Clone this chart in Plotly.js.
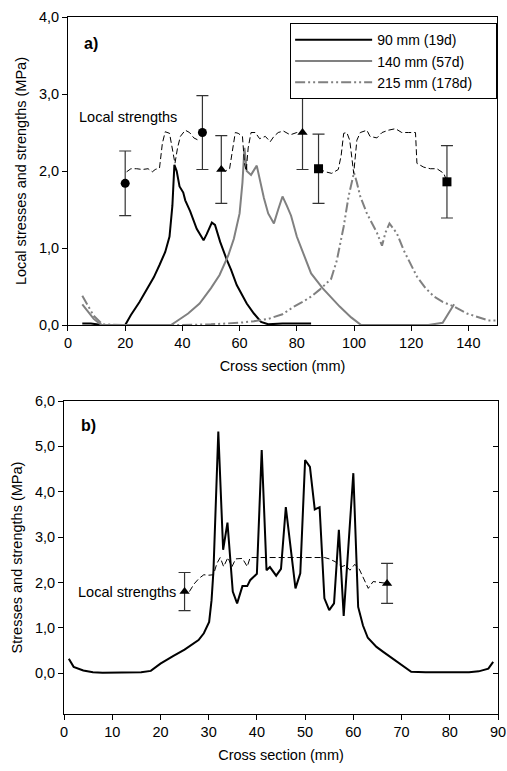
<!DOCTYPE html>
<html>
<head>
<meta charset="utf-8">
<script src="https://cdn.plot.ly/plotly-3.0.1.min.js"></script>
<style>html,body{margin:0;padding:0;background:#fff;}#chart{width:507px;height:771px;}</style>
</head>
<body>
<div id="chart"></div>
<script>
// ---------- Panel a) data ----------
const aX90 = [5, 8, 10, 12, 20, 22, 25, 28, 30, 32, 34, 35.5, 36.5, 37.2, 38, 39, 40.3, 41, 42.7, 45, 47.4, 48.5, 50.3, 51.4, 53.2, 55.5, 57, 59, 62.5, 65, 67.5, 70, 75, 80, 85];
const aY90 = [0.02, 0.02, 0.01, 0, 0, 0.13, 0.3, 0.5, 0.62, 0.78, 0.95, 1.15, 1.55, 2.08, 2.0, 1.8, 1.72, 1.62, 1.48, 1.25, 1.10, 1.18, 1.33, 1.30, 1.08, 0.85, 0.72, 0.52, 0.28, 0.15, 0.04, 0.01, 0.02, 0.02, 0.02];

const aX140 = [5, 7, 9, 11, 12, 20, 30, 36, 38, 42, 46, 50, 53, 56, 58, 60, 61, 61.7, 62.5, 64, 66, 67, 68.5, 70, 72, 73.5, 75, 76.5, 78, 80, 82, 85, 89, 92, 95, 99, 102.5, 110, 120, 126, 131, 133, 135];
const aY140 = [0.27, 0.17, 0.08, 0.02, 0, 0, 0, 0, 0.05, 0.15, 0.28, 0.48, 0.65, 0.9, 1.12, 1.45, 1.85, 2.3, 2.0, 1.95, 2.07, 1.9, 1.65, 1.45, 1.32, 1.5, 1.67, 1.55, 1.42, 1.15, 0.95, 0.67, 0.48, 0.36, 0.24, 0.1, 0, 0, 0, 0, 0.03, 0.15, 0.27];

const aX215 = [5, 7, 9, 12, 20, 30, 40, 50, 60, 65, 70, 75, 79, 82, 85, 88, 90.5, 92, 94, 96.4, 98.1, 100, 101, 102.2, 104.5, 106.9, 108, 109.8, 111, 112.4, 115, 117.4, 120, 122, 125, 128, 131, 135, 139.5, 144, 147, 150];
const aY215 = [0.38, 0.25, 0.12, 0.01, 0, 0, 0, 0.01, 0.03, 0.05, 0.08, 0.14, 0.24, 0.3, 0.37, 0.46, 0.54, 0.6, 0.84, 1.28, 1.67, 1.98, 1.85, 1.67, 1.45, 1.28, 1.2, 1.03, 1.2, 1.32, 1.19, 0.97, 0.78, 0.63, 0.48, 0.37, 0.3, 0.24, 0.15, 0.1, 0.06, 0.06];

const aStrX = [20.5, 22, 24, 26, 28, 29.5, 30.5, 32, 33, 34, 35.5, 36.5, 37.4, 38.3, 39.3, 41, 42.5, 44, 45.6, null,
  53.6, 55, 56.5, 57.5, 58.5, 59.5, 61, 61.7, 62.3, 63, 64, 65.5, 67, 69, 70.7, 72, 73.5, 75.3, 77.7, 80, 82, null,
  87.6, 90, 92.2, 94.5, 95.5, 96.4, 97.5, 98.5, 99.9, 101, 102.2, 104.5, 105.6, 108, 109.8, 112, 114.5, 116.7, 119, 121.5, 122, 124.4, 126.7, 129, 131.4, 132.5];
const aStrY = [1.99, 2.03, 2.03, 2.02, 2.03, 1.99, 2.02, 2.04, 2.36, 2.51, 2.49, 2.3, 2.1, 2.3, 2.45, 2.53, 2.5, 2.43, 2.40, null,
  2.02, 2.0, 2.03, 2.3, 2.5, 2.49, 2.45, 2.1, 2.0, 2.3, 2.5, 2.5, 2.42, 2.45, 2.38, 2.45, 2.5, 2.52, 2.47, 2.5, 2.5, null,
  2.03, 1.99, 1.97, 2.02, 2.2, 2.49, 2.5, 2.4, 1.97, 2.4, 2.5, 2.53, 2.45, 2.43, 2.5, 2.53, 2.55, 2.5, 2.5, 2.5, 2.1, 2.05, 2.03, 2.03, 1.97, 1.86];

const aCircX = [20, 47], aCircY = [1.84, 2.50], aCircErr = [0.42, 0.48];
const aTriX = [53.6, 82], aTriY = [2.02, 2.50], aTriErr = [0.44, 0.48];
const aSqX = [87.6, 132.5], aSqY = [2.03, 1.86], aSqErr = [0.45, 0.47];

// ---------- Panel b) data ----------
const bX = [1, 2, 4, 6, 8, 10, 12, 14, 16, 18, 20, 22.7, 25, 27.9, 29, 30.1, 30.6, 31, 32, 33, 33.9, 35, 35.9, 37, 38, 38.6, 40, 41, 42, 42.7, 44, 45, 46, 48, 49, 50, 51, 52, 53, 54, 55, 56, 57, 58, 60, 61, 62, 63, 64.8, 66.2, 69, 72, 75, 80, 84, 86, 88, 89];
const bY = [0.32, 0.14, 0.06, 0.02, 0.01, 0.01, 0.01, 0.02, 0.02, 0.05, 0.21, 0.38, 0.52, 0.73, 0.88, 1.13, 1.61, 2.27, 5.33, 2.72, 3.32, 1.8, 1.54, 1.92, 1.92, 2.05, 2.19, 4.92, 2.27, 2.34, 2.15, 2.3, 3.66, 1.87, 2.2, 4.7, 4.55, 3.61, 3.66, 1.65, 1.39, 1.54, 3.16, 1.26, 4.41, 1.46, 1.05, 0.78, 0.58, 0.47, 0.25, 0.03, 0.02, 0.02, 0.02, 0.04, 0.1, 0.25];

const bStrX = [26, 27, 28, 29, 30, 31, 31.7, 32.4, 33.1, 34, 34.8, 35.6, 37, 38, 38.6, 40, 45, 50, 54, 55, 56.2, 57.6, 58.4, 59.3, 60.3, 61.2, 62.1, 63.1, 64.1, 65.5, 67];
const bStrY = [1.8, 1.97, 2.09, 2.17, 2.16, 2.17, 2.42, 2.55, 2.35, 2.55, 2.34, 2.52, 2.53, 2.35, 2.55, 2.55, 2.55, 2.55, 2.55, 2.52, 2.46, 2.35, 2.38, 2.27, 2.4, 2.3, 2.09, 1.87, 2.02, 2.0, 1.98];

const bTriX = [25, 67], bTriY = [1.80, 1.98], bTriErr = [0.42, 0.44];

// ---------- labels ----------
const legendNames = ['90 mm (19d)', '140 mm (57d)', '215 mm (178d)'];
const xTitle = 'Cross section (mm)';
const yTitleA = 'Local stresses and strengths (MPa)';
const yTitleB = 'Stresses and strengths (MPa)';

const FONT = 'Liberation Sans, Arial, sans-serif';
const FS = 14.5;
const GRAY = '#808080';

function errTrace(x, y, err, symbol, xa, ya) {
  return {
    x: x, y: y, xaxis: xa, yaxis: ya, type: 'scatter', mode: 'markers', showlegend: false,
    marker: {symbol: symbol, size: 9, color: '#000'},
    error_y: {type: 'data', array: err, visible: true, color: '#333', thickness: 1.2, width: 6}
  };
}

const traces = [
  {x: aX90, y: aY90, xaxis: 'x', yaxis: 'y', type: 'scatter', mode: 'lines', name: legendNames[0], legendgroup: 'g',
   line: {color: '#000', width: 2}},
  {x: aX140, y: aY140, xaxis: 'x', yaxis: 'y', type: 'scatter', mode: 'lines', name: legendNames[1], legendgroup: 'g',
   line: {color: GRAY, width: 2}},
  {x: aX215, y: aY215, xaxis: 'x', yaxis: 'y', type: 'scatter', mode: 'lines', name: legendNames[2], legendgroup: 'g',
   line: {color: GRAY, width: 2, dash: '10px,3px,2px,3px,2px,3px'}},
  {x: aStrX, y: aStrY, xaxis: 'x', yaxis: 'y', type: 'scatter', mode: 'lines', showlegend: false,
   line: {color: '#000', width: 1, dash: '6px,3px'}},
  errTrace(aCircX, aCircY, aCircErr, 'circle', 'x', 'y'),
  errTrace(aTriX, aTriY, aTriErr, 'triangle-up', 'x', 'y'),
  errTrace(aSqX, aSqY, aSqErr, 'square', 'x', 'y'),
  {x: bX, y: bY, xaxis: 'x2', yaxis: 'y2', type: 'scatter', mode: 'lines', showlegend: false,
   line: {color: '#000', width: 2}},
  {x: bStrX, y: bStrY, xaxis: 'x2', yaxis: 'y2', type: 'scatter', mode: 'lines', showlegend: false,
   line: {color: '#000', width: 1, dash: '6px,3px'}},
  errTrace(bTriX, bTriY, bTriErr, 'triangle-up', 'x2', 'y2'),
  {x: [0], y: [0], xaxis: 'x2', yaxis: 'y3', type: 'scatter', mode: 'markers', showlegend: false,
   marker: {opacity: 0}, hoverinfo: 'skip'}
];

const axCommon = {
  showgrid: false, zeroline: false, showline: true, linecolor: '#000', linewidth: 1,
  ticks: 'outside', ticklen: 5, tickcolor: '#000', tickfont: {family: FONT, size: FS, color: '#000'}
};

const layout = {
  width: 507, height: 771,
  margin: {l: 64, r: 9, t: 17, b: 57},
  paper_bgcolor: '#fff', plot_bgcolor: '#fff',
  separators: ',.',
  font: {family: FONT, size: FS, color: '#000'},
  showlegend: true,
  legend: {x: 0.998, y: 0.991, xanchor: 'right', yanchor: 'top', bordercolor: '#000', borderwidth: 1,
    bgcolor: '#fff', font: {family: FONT, size: 14}, orientation: 'h', traceorder: 'grouped',
    entrywidth: 114, entrywidthmode: 'pixels', itemwidth: 77, tracegroupgap: 0},
  xaxis: Object.assign({}, axCommon, {domain: [0.0092, 0.9977], anchor: 'y', range: [0, 150], tick0: 0, dtick: 20,
    mirror: true, title: {text: xTitle, font: {family: FONT, size: FS}, standoff: 10}}),
  yaxis: Object.assign({}, axCommon, {domain: [0.558, 1], anchor: 'x', range: [0, 4], tick0: 0, dtick: 1,
    tickformat: '.1f', mirror: true, title: {text: yTitleA, font: {family: FONT, size: FS}, standoff: 8}}),
  xaxis2: Object.assign({}, axCommon, {domain: [0, 1], anchor: 'y2', range: [0, 90], tick0: 0, dtick: 10,
    mirror: true, title: {text: xTitle, font: {family: FONT, size: FS}, standoff: 10}}),
  yaxis2: Object.assign({}, axCommon, {domain: [0, 0.449], anchor: 'x2', range: [-0.9, 6], tick0: 0, dtick: 1,
    tickformat: '.1f', mirror: true, title: {text: yTitleB, font: {family: FONT, size: FS}, standoff: 8}}),
  yaxis3: {overlaying: 'y2', anchor: 'x2', side: 'right', range: [-0.9, 6], tick0: 0, dtick: 1,
    showgrid: false, zeroline: false, showline: false, ticks: 'inside', ticklen: 5, tickcolor: '#000',
    showticklabels: false},
  annotations: [
    {xref: 'x', yref: 'y', x: 5, y: 3.65, text: '<b>a)</b>', showarrow: false, xanchor: 'left', yanchor: 'middle',
     font: {family: FONT, size: 16, color: '#000'}},
    {xref: 'x', yref: 'y', x: 3.0, y: 2.70, text: 'Local strengths', showarrow: false, xanchor: 'left', yanchor: 'middle',
     font: {family: FONT, size: FS, color: '#000'}},
    {xref: 'x2', yref: 'y2', x: 3.2, y: 5.47, text: '<b>b)</b>', showarrow: false, xanchor: 'left', yanchor: 'middle',
     font: {family: FONT, size: 16, color: '#000'}},
    {xref: 'x2', yref: 'y2', x: 2.5, y: 1.79, text: 'Local strengths', showarrow: false, xanchor: 'left', yanchor: 'middle',
     font: {family: FONT, size: FS, color: '#000'}}
  ]
};

Plotly.newPlot('chart', traces, layout, {displayModeBar: false, staticPlot: true});
</script>
</body>
</html>
